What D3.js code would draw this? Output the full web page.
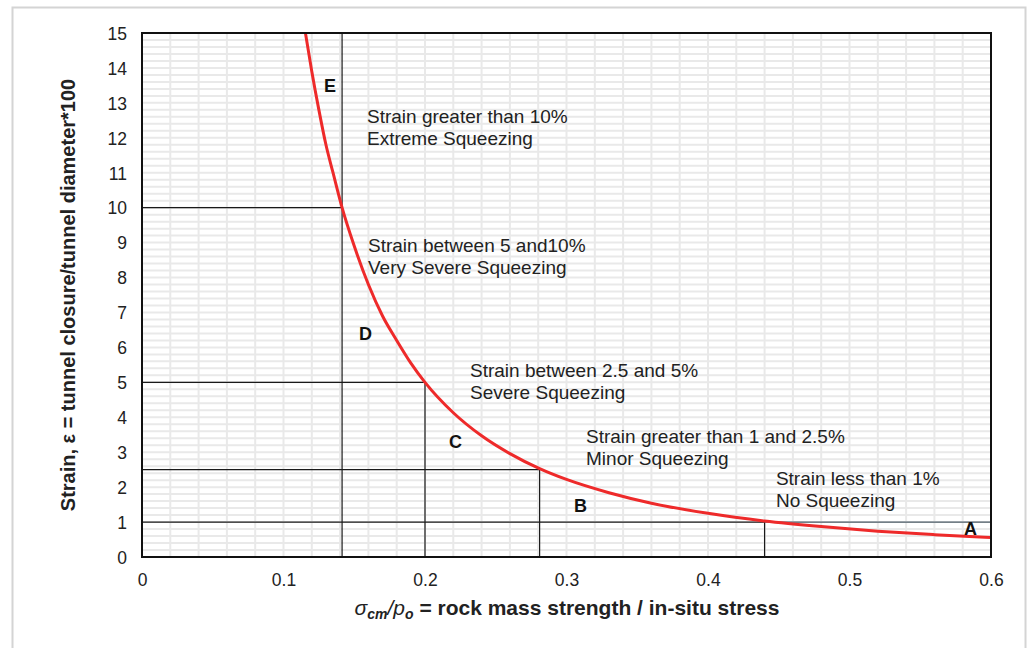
<!DOCTYPE html>
<html>
<head>
<meta charset="utf-8">
<script src="https://cdn.jsdelivr.net/npm/d3@7"></script>
<style>
  html, body { margin: 0; padding: 0; background: #fff; }
  svg { display: block; font-family: "Liberation Sans", Arial, sans-serif; }
</style>
</head>
<body>
<svg id="chart" width="1033" height="648"></svg>
<script>
// Squeezing curve: strain (%) against strength/stress ratio
const ratioValues = [0.1155, 0.12, 0.125, 0.13, 0.135, 0.1414, 0.15, 0.16, 0.17, 0.18, 0.19, 0.2, 0.22, 0.24, 0.26, 0.281, 0.3, 0.33, 0.36, 0.4, 0.44, 0.48, 0.52, 0.56, 0.6];
const strainValues = [15.0, 13.9, 12.8, 11.8, 11.0, 10.0, 8.9, 7.8, 6.9, 6.2, 5.55, 5.0, 4.13, 3.47, 2.96, 2.53, 2.22, 1.84, 1.54, 1.25, 1.03, 0.87, 0.74, 0.64, 0.556];

// Class boundaries: ratio / strain where the guide lines meet the curve
const boundaryRatio = [0.1414, 0.2, 0.281, 0.44];
const boundaryStrain = [10, 5, 2.5, 1];

// Axis ticks
const xTicks = [0, 0.1, 0.2, 0.3, 0.4, 0.5, 0.6];
const yTicks = [0, 1, 2, 3, 4, 5, 6, 7, 8, 9, 10, 11, 12, 13, 14, 15];

// Zone annotations (anchored in data units)
const zoneLetters = ["E", "D", "C", "B", "A"];
const zoneLetterPos = [[0.1286, 13.31], [0.1534, 6.21], [0.217, 3.12], [0.3053, 1.29], [0.581, 0.63]];
const zoneLines = [
  ["Strain greater than 10%", "Extreme Squeezing"],
  ["Strain between 5 and10%", "Very Severe Squeezing"],
  ["Strain between 2.5 and 5%", "Severe Squeezing"],
  ["Strain greater than 1 and 2.5%", "Minor Squeezing"],
  ["Strain less than 1%", "No Squeezing"]
];
const zoneTextPos = [[0.159, 12.42], [0.1597, 8.73], [0.2318, 5.15], [0.3138, 3.26], [0.448, 2.06]];

const svg = d3.select("#chart");
const plotLeft = 142, plotRight = 991, plotTop = 33, plotBottom = 557;

const x = d3.scaleLinear().domain([0, 0.6]).range([plotLeft, plotRight]);
const y = d3.scaleLinear().domain([0, 15]).range([plotBottom, plotTop]);

// outer panel border
svg.append("rect")
  .attr("x", 12.5).attr("y", 7.5)
  .attr("width", 1013).attr("height", 700)
  .attr("fill", "#fff").attr("stroke", "#d4d4d4").attr("stroke-width", 2);

// minor grid
const grid = svg.append("g").attr("stroke", "#e9e9e9").attr("stroke-width", 2);
const vGrid = d3.range(0, 31).map(i => i * 0.02);
const hGrid = d3.range(0, 76).map(i => i * 0.2);
grid.selectAll("line.v").data(vGrid).join("line")
  .attr("x1", d => x(d)).attr("x2", d => x(d))
  .attr("y1", plotTop).attr("y2", plotBottom);
grid.selectAll("line.h").data(hGrid).join("line")
  .attr("x1", plotLeft).attr("x2", plotRight)
  .attr("y1", d => y(d)).attr("y2", d => y(d));

// guide lines for class boundaries
const guides = svg.append("g").attr("stroke", "#1a1a1a").attr("stroke-width", 1.2).attr("fill", "none");
boundaryRatio.forEach((r, i) => {
  const s = boundaryStrain[i];
  guides.append("line")
    .attr("x1", x(0)).attr("x2", x(r))
    .attr("y1", y(s)).attr("y2", y(s));
  guides.append("line")
    .attr("x1", x(r)).attr("x2", x(r))
    .attr("y1", y(0)).attr("y2", i === 0 ? y(15) : y(s));
});
// continuation of the 1% line across the no-squeezing zone
svg.append("line")
  .attr("x1", x(0.44)).attr("x2", x(0.6))
  .attr("y1", y(1)).attr("y2", y(1))
  .attr("stroke", "#4b5b66").attr("stroke-width", 1.2);

// curve
svg.append("defs").append("clipPath").attr("id", "plotClip")
  .append("rect").attr("x", plotLeft).attr("y", plotTop)
  .attr("width", plotRight - plotLeft).attr("height", plotBottom - plotTop);
const curvePts = ratioValues.map((r, i) => [r, strainValues[i]]);
svg.append("path")
  .datum(curvePts)
  .attr("clip-path", "url(#plotClip)")
  .attr("fill", "none")
  .attr("stroke", "#ee2a2a")
  .attr("stroke-width", 3)
  .attr("d", d3.line().x(d => x(d[0])).y(d => y(d[1])).curve(d3.curveMonotoneX));

// plot frame
svg.append("rect")
  .attr("x", plotLeft).attr("y", plotTop)
  .attr("width", plotRight - plotLeft).attr("height", plotBottom - plotTop)
  .attr("fill", "none").attr("stroke", "#111").attr("stroke-width", 2);

// axes
const yAxis = d3.axisLeft(y).tickValues(yTicks).tickSize(0).tickPadding(15);
const yg = svg.append("g").attr("transform", `translate(${plotLeft},0)`).call(yAxis);
yg.select(".domain").remove();
yg.selectAll("text").attr("font-size", 17.5).attr("fill", "#222")
  .attr("font-family", "Liberation Sans, Arial, sans-serif").attr("dy", "0.36em");

const xAxis = d3.axisBottom(x).tickValues(xTicks).tickSize(0).tickPadding(17)
  .tickFormat(d => d === 0 ? "0" : d3.format(".1f")(d));
const xg = svg.append("g").attr("transform", `translate(0,${plotBottom})`).call(xAxis);
xg.select(".domain").remove();
xg.selectAll("text").attr("font-size", 17.5).attr("fill", "#222")
  .attr("font-family", "Liberation Sans, Arial, sans-serif");

// zone letters
svg.append("g").selectAll("text").data(zoneLetters).join("text")
  .attr("x", (d, i) => x(zoneLetterPos[i][0]))
  .attr("y", (d, i) => y(zoneLetterPos[i][1]))
  .attr("font-size", 18).attr("font-weight", "bold").attr("fill", "#111")
  .text(d => d);

// zone descriptions
const zt = svg.append("g").attr("font-size", 19).attr("fill", "#222");
zoneLines.forEach((lines, i) => {
  const t = zt.append("text")
    .attr("x", x(zoneTextPos[i][0]))
    .attr("y", y(zoneTextPos[i][1]));
  lines.forEach((ln, j) => {
    t.append("tspan").attr("x", x(zoneTextPos[i][0])).attr("dy", j === 0 ? 0 : 22).text(ln);
  });
});

// axis titles
svg.append("text")
  .attr("transform", `translate(75,295) rotate(-90)`)
  .attr("text-anchor", "middle")
  .attr("font-size", 20).attr("font-weight", "bold").attr("fill", "#222")
  .text("Strain, \u03B5 = tunnel closure/tunnel diameter*100");

const xt = svg.append("text")
  .attr("x", 567).attr("y", 615)
  .attr("text-anchor", "middle")
  .attr("font-size", 21).attr("font-weight", "bold").attr("fill", "#222");
xt.append("tspan").attr("font-style", "italic").attr("font-weight", "normal").text("\u03C3");
xt.append("tspan").attr("font-style", "italic").attr("font-size", 14).attr("dy", 4).text("cm");
xt.append("tspan").attr("font-style", "italic").attr("font-weight", "normal").attr("dy", -4).text("/p");
xt.append("tspan").attr("font-style", "italic").attr("font-size", 14).attr("dy", 4).text("o");
xt.append("tspan").attr("dy", -4).text(" = rock mass strength / in-situ stress");
</script>
</body>
</html>
